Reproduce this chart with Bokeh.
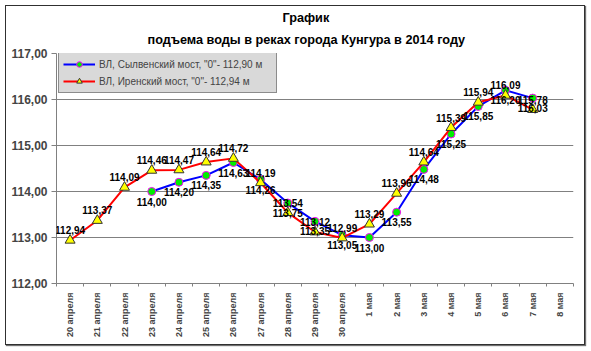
import math
import numpy as np
from bokeh.plotting import figure
from bokeh.core.properties import value
from bokeh.models import (Range1d, FixedTicker, ColumnDataSource, LabelSet, Title,
                          Legend, LegendItem)
from bokeh.embed import file_html
from bokeh.resources import INLINE

# ---------------- data ----------------
categories = ["20 апреля", "21 апреля", "22 апреля", "23 апреля", "24 апреля",
              "25 апреля", "26 апреля", "27 апреля", "28 апреля", "29 апреля",
              "30 апреля", "1 мая", "2 мая", "3 мая", "4 мая", "5 мая",
              "6 мая", "7 мая", "8 мая"]
sylva = [None, None, None, 114.00, 114.20, 114.35, 114.63, 114.26, 113.75, 113.35,
         113.05, 113.00, 113.55, 114.48, 115.25, 115.85, 116.20, 116.03, None]
iren = [112.94, 113.37, 114.09, 114.46, 114.47, 114.64, 114.72, 114.19, 113.54, 113.12,
        112.99, 113.29, 113.96, 114.64, 115.39, 115.94, 116.09, 115.78, None]
y_ticks = [112, 113, 114, 115, 116, 117]
series_names = ['ВЛ, Сылвенский мост, "0"- 112,90 м', 'ВЛ, Иренский мост, "0"- 112,94 м']
title_lines = ["График", "подъема воды в реках города Кунгура в 2014 году"]

FONT = "Liberation Sans"

def fmt(v):
    return f"{v:.2f}".replace(".", ",")

xc = [i + 0.5 for i in range(len(categories))]

def to_arr(vals):
    return np.array([np.nan if v is None else v for v in vals], dtype=float)

p = figure(width=580, height=340, output_backend="svg", toolbar_location=None,
           x_range=Range1d(0, len(categories)), y_range=Range1d(112, 117),
           min_border_left=50, min_border_right=13, min_border_top=47, min_border_bottom=63)
p.styles = {"margin": "5px 0 0 5px", "border": "1px solid #303030",
            "box-shadow": "1px 1px 1px #707070"}
p.outline_line_color = None
p.background_fill_color = "white"
p.border_fill_color = "white"

# axes
p.xaxis.ticker = FixedTicker(ticks=xc, minor_ticks=list(range(len(categories) + 1)))
p.xaxis.major_label_overrides = {x: c for x, c in zip(xc, categories)}
p.xaxis.major_label_orientation = math.pi / 2
p.xaxis.major_tick_out = 0
p.xaxis.major_tick_in = 0
p.xaxis.minor_tick_out = 3
p.xaxis.minor_tick_in = 0
p.xaxis.major_label_standoff = 6
p.xaxis.major_label_text_font = FONT
p.xaxis.major_label_text_font_size = "9px"
p.xaxis.major_label_text_font_style = "bold"
p.xaxis.axis_line_color = "#808080"
p.xaxis.minor_tick_line_color = "#808080"

p.yaxis.ticker = FixedTicker(ticks=y_ticks)
p.yaxis.major_label_overrides = {t: fmt(t) for t in y_ticks}
p.yaxis.minor_tick_line_color = None
p.yaxis.major_tick_out = 5
p.yaxis.major_tick_in = 0
p.yaxis.major_label_standoff = 4
p.yaxis.major_label_text_font = FONT
p.yaxis.major_label_text_font_size = "12px"
p.yaxis.major_label_text_font_style = "bold"
p.yaxis.axis_line_color = "#808080"
p.yaxis.major_tick_line_color = "#808080"

p.xgrid.grid_line_color = None
p.ygrid.ticker = FixedTicker(ticks=y_ticks[:-1])
p.ygrid.grid_line_color = "#808080"
p.ygrid.grid_line_width = 1

# series
ys = to_arr(sylva)
yi = to_arr(iren)
src_s = ColumnDataSource(dict(x=xc, y=ys))
src_i = ColumnDataSource(dict(x=xc, y=yi))

l_s = p.line("x", "y", source=src_s, line_color="#0000FF", line_width=2)
m_s = p.scatter("x", "y", source=src_s, marker="circle", size=8,
                fill_color="#00EE00", line_color="#FF00FF", line_width=1)
l_i = p.line("x", "y", source=src_i, line_color="#FF0000", line_width=2)
m_i = p.scatter("x", "y", source=src_i, marker="triangle", size=10,
                fill_color="#FFFF00", line_color="#333333", line_width=1)

# data labels
lab_s = ColumnDataSource(dict(x=[x for x, v in zip(xc, sylva) if v is not None],
                              y=[v for v in sylva if v is not None],
                              t=[fmt(v) for v in sylva if v is not None]))
lab_i = ColumnDataSource(dict(x=[x for x, v in zip(xc, iren) if v is not None],
                              y=[v for v in iren if v is not None],
                              t=[fmt(v) for v in iren if v is not None]))
p.add_layout(LabelSet(x="x", y="y", text="t", source=lab_s, text_align="center",
                      text_baseline="top", y_offset=-6, text_font=value(FONT),
                      text_font_size=value("10px"), text_font_style=value("bold"),
                      text_color="black"))
p.add_layout(LabelSet(x="x", y="y", text="t", source=lab_i, text_align="center",
                      text_baseline="bottom", y_offset=6, text_font=value(FONT),
                      text_font_size=value("10px"), text_font_style=value("bold"),
                      text_color="black"))

# title (second line added first: it sits nearest to the plot)
p.add_layout(Title(text=title_lines[1], align="left", offset=91, standoff=13,
                   text_font=FONT, text_font_size="12.7px",
                   text_font_style="bold", text_color="black"), "above")
p.add_layout(Title(text=title_lines[0], align="left", offset=226, standoff=0,
                   text_font=FONT, text_font_size="12.7px",
                   text_font_style="bold", text_color="black"), "above")

# legend
legend = Legend(items=[LegendItem(label=series_names[0], renderers=[l_s, m_s]),
                       LegendItem(label=series_names[1], renderers=[l_i, m_i])],
                location=(2, 190), margin=0, padding=4, spacing=3,
                glyph_width=32, glyph_height=14, label_height=14, label_standoff=4,
                label_width=173,
                label_text_font=FONT, label_text_font_size="10px",
                background_fill_color="#d9d9d9", background_fill_alpha=1,
                border_line_color="#404040", border_line_width=1)
p.add_layout(legend, "center")

open("out.html", "w").write(file_html(p, INLINE))
